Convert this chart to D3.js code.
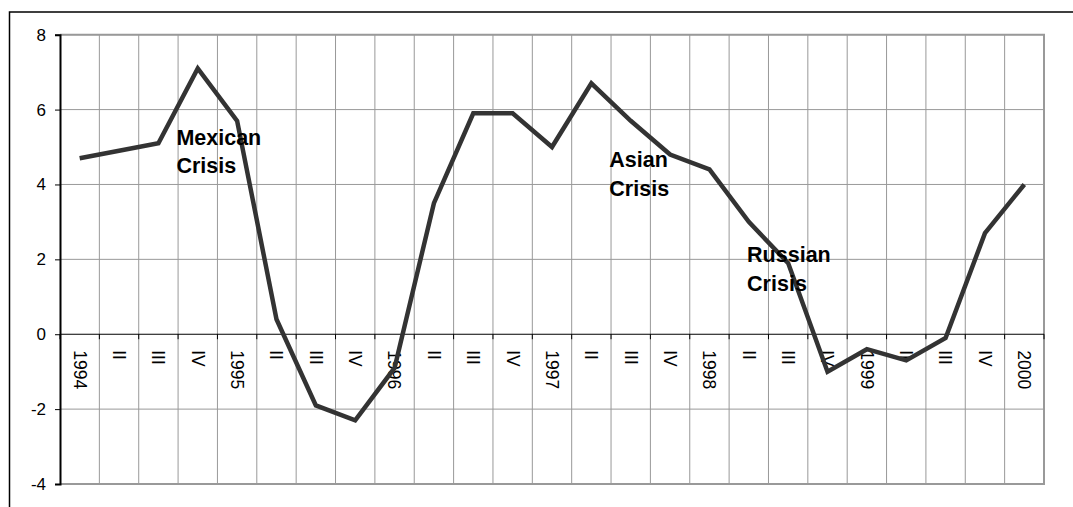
<!DOCTYPE html>
<html>
<head>
<meta charset="utf-8">
<script src="https://cdn.jsdelivr.net/npm/d3@7"></script>
<style>
  html, body { margin: 0; padding: 0; background: #fff; }
  svg { display: block; font-family: "Liberation Sans", Arial, sans-serif; }
</style>
</head>
<body>
<svg id="chart" width="1073" height="507"></svg>
<script>
// ---- data ----
const categories = ["1994","II","III","IV","1995","II","III","IV","1996","II","III","IV",
                    "1997","II","III","IV","1998","II","III","IV","1999","II","III","IV","2000"];
const values = [4.7, 4.9, 5.1, 7.1, 5.7, 0.4, -1.9, -2.3, -0.9, 3.5, 5.9, 5.9,
                5.0, 6.7, 5.7, 4.8, 4.4, 3.0, 1.9, -1.0, -0.4, -0.7, -0.1, 2.7, 4.0];
const yTicks = [-4, -2, 0, 2, 4, 6, 8];
const annotationTexts = [["Mexican", "Crisis"], ["Asian", "Crisis"], ["Russian", "Crisis"]];
const annotationAnchors = [[3, 5.05], [14, 4.46], [17.5, 1.92]]; // [category index, value]

// ---- layout ----
const svg = d3.select("#chart");
const L = 60, R = 1044, T = 34.7, B = 484;

const idx = d3.range(categories.length);
const x = d3.scaleBand().domain(idx).range([L, R]).padding(0);
const bw = x.bandwidth();
const xEdge = d3.scaleLinear().domain([0, categories.length]).range([L, R]);
const y = d3.scaleLinear().domain([-4, 8]).range([B, T]);

// outer frame
svg.append("rect").attr("x", 9.5).attr("y", 12).attr("width", 1100).attr("height", 520)
  .attr("fill", "none").attr("stroke", "#000").attr("stroke-width", 1.5);

// horizontal gridlines
svg.append("g").selectAll("line").data(yTicks.filter(t => t !== 0 && t !== -4)).join("line")
  .attr("x1", L).attr("x2", R).attr("y1", d => y(d)).attr("y2", d => y(d))
  .attr("stroke", "#999").attr("stroke-width", 1);

// vertical gridlines
svg.append("g").selectAll("line").data(d3.range(1, categories.length)).join("line")
  .attr("x1", d => xEdge(d)).attr("x2", d => xEdge(d)).attr("y1", T).attr("y2", B)
  .attr("stroke", "#999").attr("stroke-width", 1);

// plot border (top, right, bottom)
svg.append("path")
  .attr("d", `M${L},${T}H${R}V${B}H${L}`)
  .attr("fill", "none").attr("stroke", "#999").attr("stroke-width", 2);

// y axis
const yAxis = svg.append("g").attr("transform", `translate(${L},0)`)
  .call(d3.axisLeft(y).tickValues(yTicks).tickSize(5).tickPadding(9).tickFormat(d => String(d)));
yAxis.attr("font-size", 17).attr("font-family", "Liberation Sans, Arial, sans-serif");
yAxis.select(".domain").attr("stroke", "#000").attr("stroke-width", 2);
yAxis.selectAll(".tick line").attr("stroke", "#000");
yAxis.selectAll(".tick text").attr("font-size", 17).attr("fill", "#000");

// x axis on zero line
const xAxis = svg.append("g").attr("transform", `translate(0,${y(0)})`);
xAxis.append("line").attr("x1", L).attr("x2", R).attr("y1", 0).attr("y2", 0)
  .attr("stroke", "#000").attr("stroke-width", 1.2);
xAxis.selectAll("line.tk").data(d3.range(0, categories.length + 1)).join("line")
  .attr("class", "tk")
  .attr("x1", d => xEdge(d)).attr("x2", d => xEdge(d)).attr("y1", 0).attr("y2", 5)
  .attr("stroke", "#000").attr("stroke-width", 1);
xAxis.selectAll("text").data(idx).join("text")
  .attr("transform", d => `translate(${x(d) + bw / 2},16) rotate(90)`)
  .attr("dy", "0.35em")
  .attr("text-anchor", "start")
  .attr("font-size", 17.5)
  .attr("fill", "#000")
  .text(d => categories[d]);

// data line
const line = d3.line().x((d, i) => x(i) + bw / 2).y(d => y(d));
svg.append("path").datum(values)
  .attr("d", line)
  .attr("fill", "none").attr("stroke", "#333").attr("stroke-width", 4.5)
  .attr("stroke-linejoin", "miter");

// annotations
annotationTexts.forEach((lines, k) => {
  const [ci, v] = annotationAnchors[k];
  const t = svg.append("text")
    .attr("x", xEdge(ci) - 1.7)
    .attr("y", y(v))
    .attr("font-size", 21.5).attr("font-weight", "bold").attr("fill", "#000");
  lines.forEach((s, j) => {
    t.append("tspan").attr("x", xEdge(ci) - 1.7).attr("dy", j === 0 ? 0 : 28.3).text(s);
  });
});
</script>
</body>
</html>
